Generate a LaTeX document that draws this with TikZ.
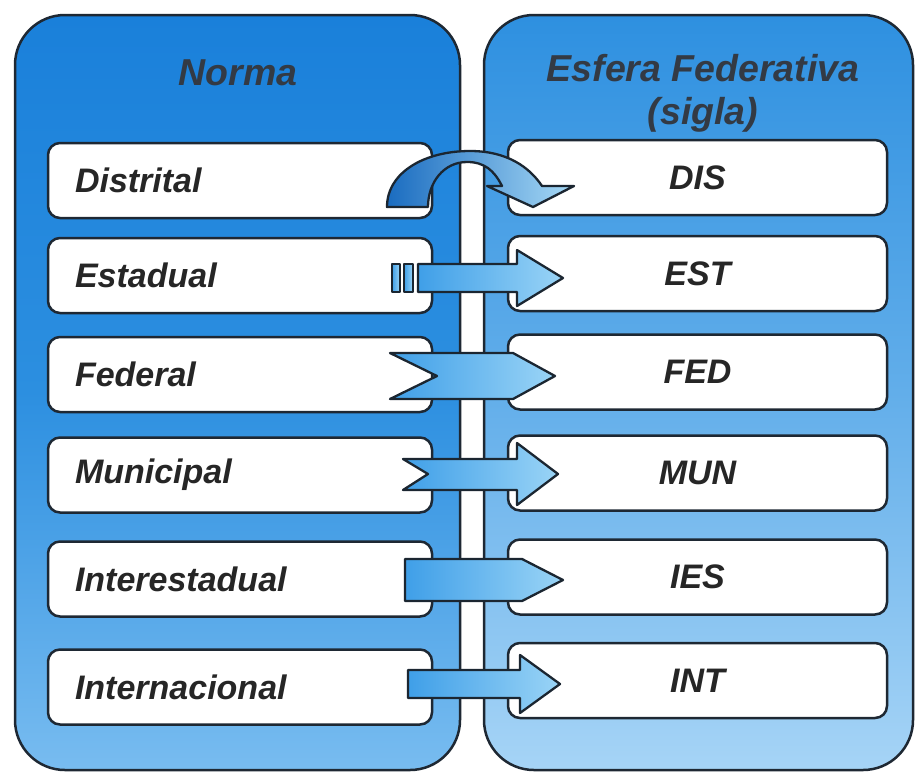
\documentclass[tikz,border=0pt]{standalone}
\usepackage{fontspec}
\setmainfont{Liberation Sans}
\begin{document}
\begin{tikzpicture}[x=1pt,y=-1pt,
  panelL/.style={draw=linec,line width=2.5pt,rounded corners=50pt,top color=pLtop,bottom color=pLbot,middle color=pLmid},
  panelR/.style={draw=linec,line width=2.5pt,rounded corners=50pt,top color=pRtop,bottom color=pRbot,middle color=pRmid},
  lbox/.style={draw=linec,line width=2.5pt,fill=white,rounded corners=12pt,minimum width=384pt,minimum height=75pt,text width=330pt,align=left,inner xsep=27pt,font=\fontsize{34}{40}\selectfont\bfseries\itshape,text=labc},
  rbox/.style={draw=linec,line width=2.5pt,fill=white,rounded corners=12pt,minimum width=379pt,minimum height=75pt,align=center,font=\fontsize{34}{40}\selectfont\bfseries\itshape,text=labc},
  head/.style={font=\fontsize{37.5}{40}\selectfont\bfseries\itshape,text=headc,align=center},
  arr/.style={draw=arrline,line width=2.3pt,line join=round,left color=arrA,right color=arrB},
  curarr/.style={draw=arrline,line width=2.3pt,line join=round,left color=carrA,right color=carrB},
]
\definecolor{linec}{HTML}{1E2833}
\definecolor{labc}{HTML}{262626}
\definecolor{headc}{HTML}{333A44}
\definecolor{pLtop}{HTML}{1A80DA}
\definecolor{pLmid}{HTML}{2C8FE0}
\definecolor{pLbot}{HTML}{78BCF0}
\definecolor{pRtop}{HTML}{2E90E0}
\definecolor{pRmid}{HTML}{62AEEA}
\definecolor{pRbot}{HTML}{A6D4F6}
\definecolor{arrline}{HTML}{1B2631}
\definecolor{arrA}{HTML}{3F9FE8}
\definecolor{arrB}{HTML}{9AD4F6}
\definecolor{carrA}{HTML}{1A6CC0}
\definecolor{carrB}{HTML}{A8DAF6}

\useasboundingbox (0,0) rectangle (917,774);
\fill[white] (0,0) rectangle (917,774);

% panels
\path[panelL] (15,15) rectangle (460,770);
\path[panelR] (484,15) rectangle (913,770);

% headers
\node[head] (hN) at (238,73) {Norma};
\node[head] (hE) at (703,93) {Esfera Federativa\\[3pt](sigla)};

% left boxes
\node[lbox] (l1) at (240,180.5) {Distrital};
\node[lbox] (l2) at (240,275.5) {Estadual};
\node[lbox] (l3) at (240,374.5) {Federal};
\node[lbox] (l4) at (240,475) {Municipal};
\node[lbox] (l5) at (240,579) {Interestadual};
\node[lbox] (l6) at (240,687) {Internacional};

% right boxes
\node[rbox] (r1) at (697.5,177.5) {DIS};
\node[rbox] (r2) at (697.5,273.5) {EST};
\node[rbox] (r3) at (697.5,372) {FED};
\node[rbox] (r4) at (697.5,473) {MUN};
\node[rbox] (r5) at (697.5,577) {IES};
\node[rbox] (r6) at (697.5,680.5) {INT};

% 1: curved arrow
\path[curarr] (387,207) .. controls (387,172) and (425,151) .. (470,151)
  .. controls (508,151) and (530,168) .. (542,186)
  -- (574,186) -- (533,207) -- (487,186) -- (502,186)
  .. controls (494,170) and (484,162) .. (467,162)
  .. controls (444,162) and (428,182) .. (428,207) -- cycle;

% 2: striped arrow
\path[arr] (392,264) rectangle (400,292);
\path[arr] (404,264) rectangle (413,292);
\path[arr] (418,264) -- (517,264) -- (517,250) -- (563,278) -- (517,306) -- (517,292) -- (418,292) -- cycle;

% 3: chevron
\path[arr] (390,353) -- (513,353) -- (555,376) -- (513,399) -- (390,399) -- (437,376) -- cycle;

% 4: notched arrow
\path[arr] (403,459) -- (517,459) -- (517,443) -- (558,474) -- (517,505) -- (517,490) -- (403,490) -- (428,474) -- cycle;

% 5: pentagon
\path[arr] (405,559) -- (522,559) -- (563,580) -- (522,601) -- (405,601) -- cycle;

% 6: block arrow
\path[arr] (408,670) -- (520,670) -- (520,655) -- (560,684) -- (520,713) -- (520,698) -- (408,698) -- cycle;
\end{tikzpicture}
\end{document}
